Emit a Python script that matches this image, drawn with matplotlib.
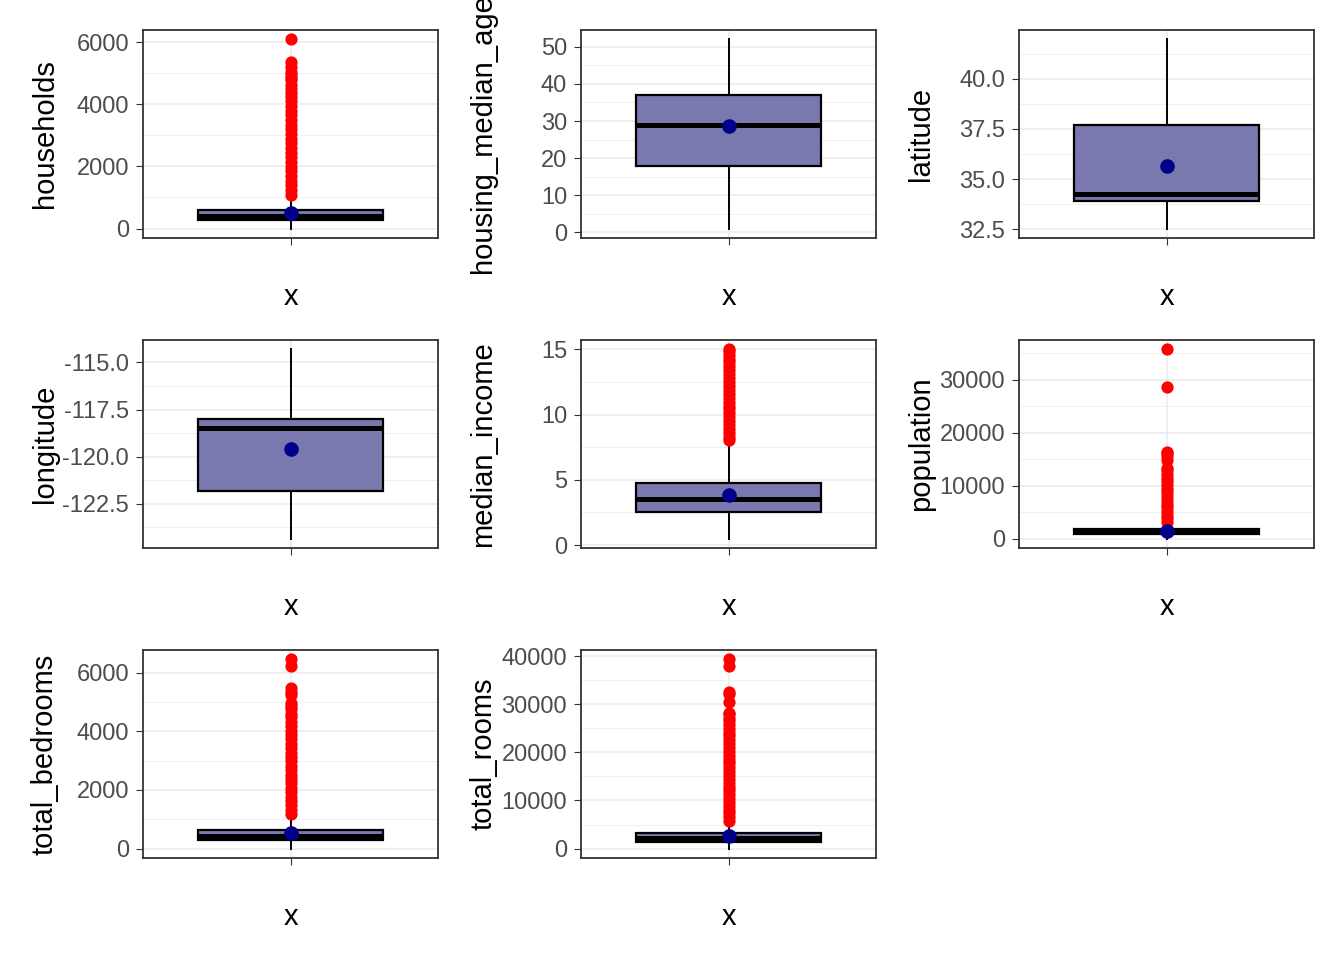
#!/usr/bin/env python3
from __future__ import annotations

from typing import Dict, List

import matplotlib

matplotlib.use("Agg")
import matplotlib.pyplot as plt

plt.rcParams["font.family"] = ["Liberation Sans", "DejaVu Sans"]
plt.rcParams["axes.unicode_minus"] = False

VARIABLES: List[str] = [
    "households", "housing_median_age", "latitude",
    "longitude", "median_income", "population",
    "total_bedrooms", "total_rooms",
]

# five-number summaries (lower whisker, Q1, median, Q3, upper whisker)
WHISKER_LOW: List[float] = [1, 1, 32.54, -124.35, 0.4999, 3, 1, 2]
Q1: List[float] = [280, 18, 33.93, -121.80, 2.5634, 787, 296, 1448]
MEDIAN: List[float] = [409, 29, 34.26, -118.49, 3.5348, 1166, 435, 2127]
Q3: List[float] = [605, 37, 37.71, -118.01, 4.7432, 1725, 647, 3148]
WHISKER_HIGH: List[float] = [1092, 52, 41.95, -114.31, 8.011, 3132, 1173, 5698]
MEANS: List[float] = [499.5, 28.6, 35.63, -119.57, 3.87, 1425.5, 537.9, 2635.8]

HOUSEHOLDS_OUT: List[float] = [
    1095, 1240, 1390, 1540, 1690, 1840, 1990, 2140, 2290, 2440, 2590, 2740, 2890,
    3040, 3190, 3340, 3490, 3640, 3790, 3940, 4090, 4240, 4372, 4490, 4616, 4769,
    4855, 4930, 5050, 5189, 5358, 6082,
]
INCOME_OUT: List[float] = [
    8.02, 8.3, 8.6, 8.9, 9.2, 9.5, 9.8, 10.1, 10.4, 10.7, 11.0, 11.3, 11.6, 11.9,
    12.2, 12.5, 12.8, 13.1, 13.4, 13.7, 14.0, 14.3, 14.6, 14.9, 15.0,
]
POPULATION_OUT: List[float] = [
    3140, 3800, 4500, 5200, 5900, 6600, 7300, 8000, 8700, 9400, 10100, 10800,
    11500, 12200, 12900, 13300, 14800, 15500, 16122, 16305, 28566, 35682,
]
BEDROOMS_OUT: List[float] = [
    1175, 1320, 1470, 1620, 1770, 1920, 2070, 2220, 2370, 2520, 2670, 2820, 2970,
    3120, 3270, 3420, 3570, 3720, 3870, 4020, 4170, 4320, 4470, 4600, 4750, 4860,
    4960, 5240, 5350, 5471, 6210, 6445,
]
ROOMS_OUT: List[float] = [
    5710, 6500, 7300, 8100, 8900, 9700, 10500, 11300, 12100, 12900, 13700, 14500,
    15300, 16100, 16900, 17700, 18500, 19300, 20100, 20900, 21700, 22500, 23300,
    24100, 24900, 25700, 26500, 27100, 28000, 28258, 30405, 32054, 32627, 37937,
    39320,
]
OUTLIERS: List[List[float]] = [
    HOUSEHOLDS_OUT, [], [], [], INCOME_OUT, POPULATION_OUT, BEDROOMS_OUT, ROOMS_OUT,
]

Y_TICKS: List[List[float]] = [
    [0, 2000, 4000, 6000],
    [0, 10, 20, 30, 40, 50],
    [32.5, 35.0, 37.5, 40.0],
    [-122.5, -120.0, -117.5, -115.0],
    [0, 5, 10, 15],
    [0, 10000, 20000, 30000],
    [0, 2000, 4000, 6000],
    [0, 10000, 20000, 30000, 40000],
]
TICK_DECIMALS: List[int] = [0, 0, 1, 1, 0, 0, 0, 0]

FIG_W, FIG_H = 1344, 960
COL_LEFT = [143, 581, 1019]
ROW_TOP = [30, 340, 650]
PANEL_W, PANEL_H = 295, 208

BOX_FILL = "#7979AF"
MEAN_COLOR = "#00008B"
GRID_COLOR = "#EBEBEB"
BORDER_COLOR = "#333333"


def _panel(fig: plt.Figure, idx: int) -> plt.Axes:
    row, col = divmod(idx, 3)
    left = COL_LEFT[col] / FIG_W
    bottom = 1 - (ROW_TOP[row] + PANEL_H) / FIG_H
    return fig.add_axes([left, bottom, PANEL_W / FIG_W, PANEL_H / FIG_H])


def _draw(ax: plt.Axes, idx: int) -> None:
    stats: Dict = {
        "whislo": WHISKER_LOW[idx],
        "q1": Q1[idx],
        "med": MEDIAN[idx],
        "q3": Q3[idx],
        "whishi": WHISKER_HIGH[idx],
        "fliers": OUTLIERS[idx],
    }
    ax.bxp(
        [stats],
        positions=[1],
        widths=0.75,
        patch_artist=True,
        showcaps=False,
        boxprops=dict(facecolor=BOX_FILL, edgecolor="black", linewidth=1.6),
        whiskerprops=dict(color="black", linewidth=1.4),
        medianprops=dict(color="black", linewidth=3.6, solid_capstyle="butt"),
        flierprops=dict(marker="o", markerfacecolor="red", markeredgecolor="red",
                        markersize=7.8, linestyle="none"),
        zorder=3,
    )
    ax.plot([1], [MEANS[idx]], marker="o", color=MEAN_COLOR, markersize=9.5,
            linestyle="none", zorder=6)

    ticks = Y_TICKS[idx]
    step = ticks[1] - ticks[0]
    minor = [t - step / 2 for t in ticks] + [ticks[-1] + step / 2]
    ax.set_yticks(ticks)
    ax.set_yticklabels([f"{t:.{TICK_DECIMALS[idx]}f}" for t in ticks])
    ax.set_yticks(minor, minor=True)
    ax.set_xticks([1])
    ax.set_xticklabels([""])

    # limits after the ticks, so the tick lists do not widen the view
    values = [WHISKER_LOW[idx], WHISKER_HIGH[idx], MEANS[idx]] + OUTLIERS[idx]
    lo, hi = min(values), max(values)
    pad = (hi - lo) * 0.05
    ax.set_ylim(lo - pad, hi + pad)
    ax.set_xlim(0.4, 1.6)

    ax.grid(True, which="major", color=GRID_COLOR, linewidth=1.1, zorder=0)
    ax.grid(True, which="minor", axis="y", color=GRID_COLOR, linewidth=0.55, zorder=0)
    ax.set_axisbelow(True)
    ax.tick_params(axis="both", which="major", length=5, width=0.8, color=BORDER_COLOR,
                   labelsize=17, labelcolor="#4D4D4D", pad=5)
    ax.tick_params(axis="y", which="minor", length=0)
    for spine in ax.spines.values():
        spine.set_color(BORDER_COLOR)
        spine.set_linewidth(1.3)

    ax.text(-90 / PANEL_W, 0.5, VARIABLES[idx], transform=ax.transAxes, rotation=90,
            rotation_mode="anchor", ha="center", va="baseline", fontsize=21, color="black")
    ax.text(0.5, -67 / PANEL_H, "x", transform=ax.transAxes, ha="center",
            va="baseline", fontsize=21, color="black")


def main() -> int:
    fig = plt.figure(figsize=(FIG_W / 100, FIG_H / 100), dpi=100)
    for idx in range(len(VARIABLES)):
        ax = _panel(fig, idx)
        _draw(ax, idx)
    fig.savefig("out.png", dpi=100)
    plt.close(fig)
    return 0


if __name__ == "__main__":
    raise SystemExit(main())
